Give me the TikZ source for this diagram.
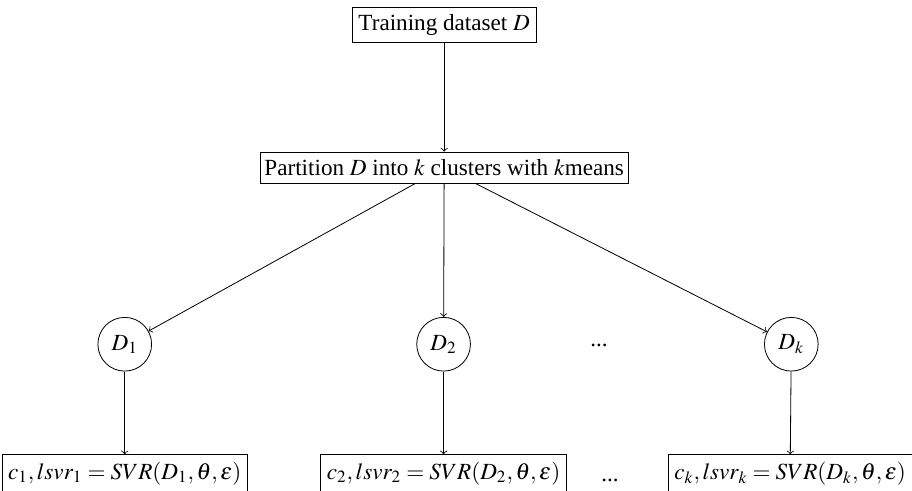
\documentclass[tikz,border=0pt,11pt]{standalone}
\usepackage{mathptmx}
\usepackage{fontspec}
\setmainfont{Liberation Serif}
\usepackage{tikz}
\usetikzlibrary{positioning}

\tikzset{
  stepbox/.style={draw, rectangle, inner xsep=3pt, inner ysep=3.6pt},
  part/.style={draw, circle, minimum size=0.93cm, inner sep=1pt}
}

\begin{document}
\begin{tikzpicture}[->, font=\fontsize{11.4}{13.7}\selectfont]
  \useasboundingbox (0,0) rectangle (15.79,-8.485);

  % Data and clustering
  \node[stepbox] (train) at (7.69,-0.43) {Training dataset $D$};
  \node[stepbox, inner xsep=2pt] (kmeans) at (7.69,-2.90) {Partition $D$ into $k$ clusters with $k$means};

  % Clusters
  \node[part] (d1) at (2.16,-5.96) {$D_1$};
  \node[part] (d2) at (7.68,-5.96) {$D_2$};
  \node (dots) at (10.37,-5.98) {...};
  \node[part] (dk) at (13.70,-5.96) {$D_k$};

  % Local models
  \node[stepbox] (svr1) at (2.16,-8.20) {$c_1, lsvr_1 = SVR(D_1,\theta,\varepsilon)$};
  \node[stepbox] (svr2) at (7.68,-8.20) {$c_2, lsvr_2 = SVR(D_2,\theta,\varepsilon)$};
  \node (ldots) at (10.56,-8.32) {...};
  \node[stepbox] (svrk) at (13.68,-8.20) {$c_k, lsvr_k = SVR(D_k,\theta,\varepsilon)$};

  \draw (train) -- (kmeans);
  \draw (kmeans) -- (d1);
  \draw (kmeans) -- (d2);
  \draw (kmeans) -- (dk);
  \draw (d1) -- (svr1);
  \draw (d2) -- (svr2);
  \draw (dk) -- (svrk);
\end{tikzpicture}
\end{document}
